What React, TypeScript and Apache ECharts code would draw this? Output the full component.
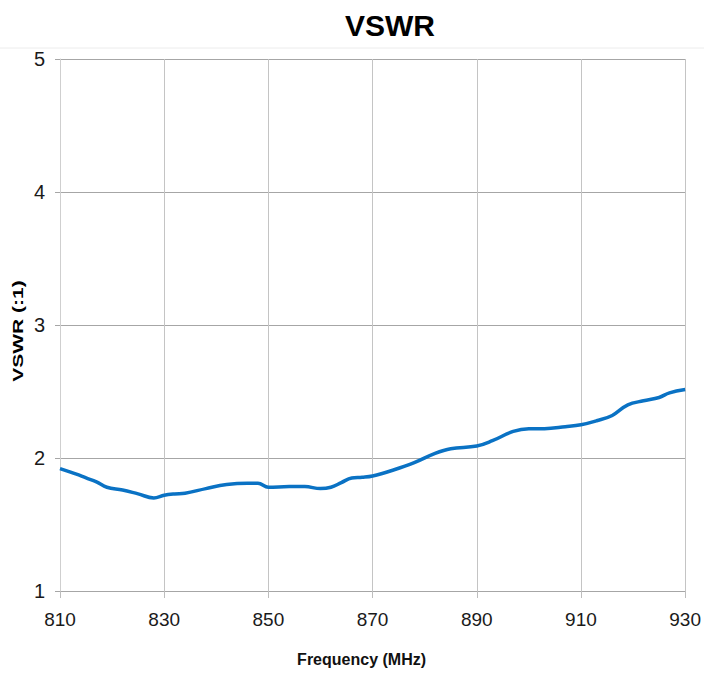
import React, { useEffect, useRef } from "react";
import * as echarts from "echarts";

const frequencies = [
  810, 813, 815, 817, 819, 822, 825, 828, 830, 832, 834, 838, 842, 846, 848, 850,
  854, 857, 860, 862, 864, 866, 868, 870, 874, 878, 882, 885, 890, 893, 897, 900,
  903, 907, 910, 913, 916, 919, 922, 925, 927, 930,
];
const vswr = [
  1.92, 1.88, 1.85, 1.82, 1.78, 1.76, 1.73, 1.70, 1.72, 1.73, 1.735, 1.77, 1.80, 1.81, 1.81, 1.78,
  1.785, 1.785, 1.77, 1.78, 1.815, 1.85, 1.855, 1.865, 1.91, 1.965, 2.035, 2.07, 2.09, 2.13, 2.2, 2.22,
  2.22, 2.235, 2.25, 2.28, 2.32, 2.4, 2.43, 2.455, 2.49, 2.515,
];
const xTicks = [810, 830, 850, 870, 890, 910, 930];
const yTicks = [1, 2, 3, 4, 5];

export default function App() {
  const ref = useRef<HTMLDivElement>(null);
  useEffect(() => {
    if (!ref.current) return;
    const chart = echarts.init(ref.current, null, { renderer: "svg" });
    const sans = "'Liberation Sans', Arial, sans-serif";
    chart.setOption({
      animation: false,
      backgroundColor: "#ffffff",
      title: {
        text: "VSWR",
        left: 385,
        top: 5,
        textAlign: "center",
        textStyle: { fontFamily: sans, fontWeight: "bold", fontSize: 30, color: "#000" },
      },
      graphic: [
        {
          type: "line",
          shape: { x1: 0, y1: 48, x2: 704, y2: 48 },
          style: { stroke: "#ececec", lineWidth: 1 },
          silent: true,
        },
        {
          type: "text",
          x: 18,
          y: 331,
          rotation: Math.PI / 2,
          scaleX: 1.5,
          style: {
            text: "VSWR (:1)",
            font: "bold 14px 'Liberation Sans', Arial, sans-serif",
            fill: "#000",
            textAlign: "center",
            textVerticalAlign: "middle",
          },
        },
      ],
      grid: { left: 60, right: 16, top: 59, bottom: 84, containLabel: false },
      xAxis: {
        type: "value",
        min: xTicks[0],
        max: xTicks[xTicks.length - 1],
        interval: 20,
        name: "Frequency (MHz)",
        nameLocation: "middle",
        nameGap: 60,
        nameTextStyle: {
          fontFamily: sans,
          fontWeight: "bold",
          fontSize: 16,
          color: "#111",
          padding: [0, 22, 0, 0],
        },
        axisLine: { show: true, lineStyle: { color: "#a6a6a6", width: 1 } },
        axisTick: { show: true, length: 7, lineStyle: { color: "#bdbdbd" } },
        axisLabel: { fontFamily: sans, fontSize: 19, color: "#1a1a1a", margin: 19 },
        splitLine: { show: true, lineStyle: { color: "#c4c4c4", width: 1 } },
      },
      yAxis: {
        type: "value",
        min: yTicks[0],
        max: yTicks[yTicks.length - 1],
        interval: 1,
        axisLine: { show: true, lineStyle: { color: "#cfcfcf", width: 1 } },
        axisTick: { show: true, length: 5, lineStyle: { color: "#a6a6a6" } },
        axisLabel: { fontFamily: sans, fontSize: 20, color: "#1a1a1a", margin: 15 },
        splitLine: { show: true, lineStyle: { color: "#a6a6a6", width: 1 } },
      },
      series: [
        {
          type: "line",
          data: frequencies.map((f, i) => [f, vswr[i]]),
          smooth: 0.4,
          showSymbol: false,
          lineStyle: { color: "#0a72c4", width: 3.5 },
        },
      ],
    });
    return () => chart.dispose();
  }, []);
  return (
    <div
      ref={ref}
      style={{ position: "fixed", left: 0, top: 0, width: 704, height: 675 }}
    />
  );
}
